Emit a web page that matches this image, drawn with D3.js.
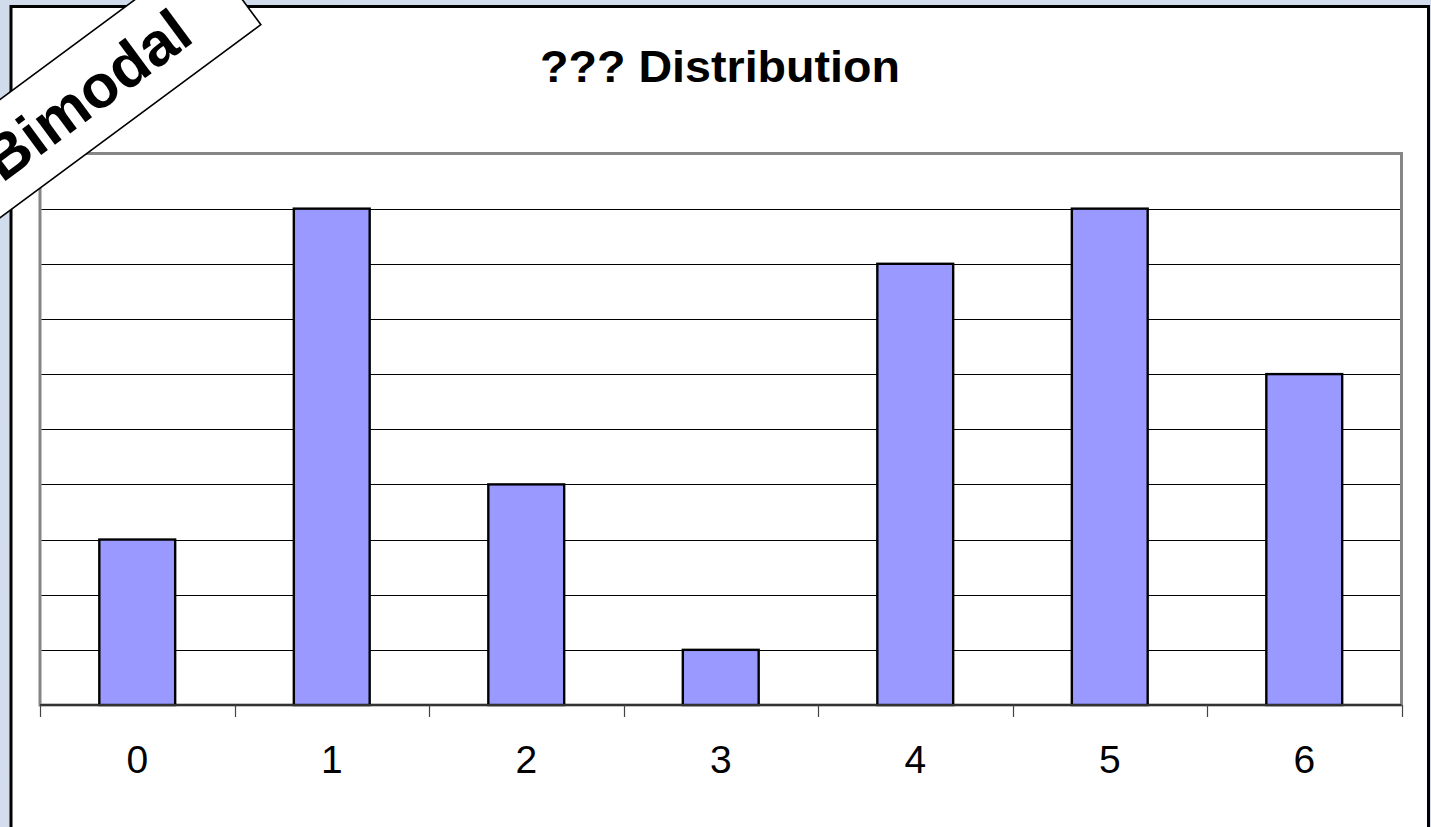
<!DOCTYPE html>
<html>
<head>
<meta charset="utf-8">
<script src="https://cdn.jsdelivr.net/npm/d3@7"></script>
<style>
  html, body { margin: 0; padding: 0; background: #d3ddec; overflow: hidden; }
  svg { display: block; }
</style>
</head>
<body>
<svg id="chart" width="1431" height="827"></svg>
<script>
const categories = ["0", "1", "2", "3", "4", "5", "6"];
const counts = [3, 9, 4, 1, 8, 9, 6];
const gridValues = [1, 2, 3, 4, 5, 6, 7, 8, 9];
const chartTitle = "??? Distribution";
const stampText = "Bimodal";

const svg = d3.select("#chart");

// background gradient
const defs = svg.append("defs");
const bg = defs.append("linearGradient").attr("id", "bg").attr("x1", 0).attr("y1", 0).attr("x2", 1).attr("y2", 1);
bg.append("stop").attr("offset", "0%").attr("stop-color", "#d0dbec");
bg.append("stop").attr("offset", "100%").attr("stop-color", "#d6e0ee");
svg.append("rect").attr("width", 1431).attr("height", 827).attr("fill", "url(#bg)");

// chart frame
svg.append("rect")
  .attr("x", 11).attr("y", 6.5)
  .attr("width", 1417.5).attr("height", 840)
  .attr("fill", "#ffffff").attr("stroke", "#000").attr("stroke-width", 3);

const plot = { left: 40, right: 1401.5, top: 153.5, bottom: 705 };

const x = d3.scaleBand()
  .domain(categories)
  .range([plot.left, plot.right])
  .paddingInner(0.61)
  .paddingOuter(0.305);

const y = d3.scaleLinear().domain([0, 10]).range([plot.bottom, plot.top]);

// plot area border
svg.append("rect")
  .attr("x", plot.left).attr("y", plot.top)
  .attr("width", plot.right - plot.left).attr("height", plot.bottom - plot.top)
  .attr("fill", "#fff").attr("stroke", "#868686").attr("stroke-width", 3);

// gridlines
svg.append("g").selectAll("line").data(gridValues).join("line")
  .attr("x1", plot.left + 1.5).attr("x2", plot.right - 1.5)
  .attr("y1", d => Math.round(y(d)) + 0.5).attr("y2", d => Math.round(y(d)) + 0.5)
  .attr("stroke", "#000").attr("stroke-width", 1);

// bars
svg.append("g").selectAll("rect").data(counts).join("rect")
  .attr("x", (d, i) => x(categories[i]))
  .attr("width", x.bandwidth())
  .attr("y", d => y(d))
  .attr("height", d => y(0) - y(d))
  .attr("fill", "#9999ff")
  .attr("stroke", "#000")
  .attr("stroke-width", 2.4);

// x axis: ticks at category boundaries
const step = x.step();
const boundaries = d3.range(categories.length + 1).map(i => plot.left + i * step);
svg.append("line")
  .attr("x1", plot.left).attr("x2", plot.right)
  .attr("y1", plot.bottom).attr("y2", plot.bottom)
  .attr("stroke", "#333").attr("stroke-width", 2.2);
svg.append("g").selectAll("line").data(boundaries).join("line")
  .attr("x1", d => Math.round(d) + 0.5).attr("x2", d => Math.round(d) + 0.5)
  .attr("y1", plot.bottom).attr("y2", plot.bottom + 12)
  .attr("stroke", "#444").attr("stroke-width", 1.2);

svg.append("g").selectAll("text").data(categories).join("text")
  .attr("x", d => x(d) + x.bandwidth() / 2)
  .attr("y", 773)
  .attr("text-anchor", "middle")
  .attr("font-family", "Liberation Sans, Arial, sans-serif")
  .attr("font-size", 39)
  .attr("fill", "#000")
  .text(d => d);

// title
svg.append("text")
  .attr("transform", "translate(720,81.5) scale(1.06,1)")
  .attr("text-anchor", "middle")
  .attr("font-family", "Liberation Sans, Arial, sans-serif")
  .attr("font-weight", "bold")
  .attr("font-size", 44)
  .attr("fill", "#000")
  .text(chartTitle);

// rotated stamp
const stamp = svg.append("g").attr("transform", "rotate(-36.5)");
stamp.append("rect")
  .attr("x", -169).attr("y", 80)
  .attr("width", 364).attr("height", 95)
  .attr("fill", "#fff").attr("stroke", "#000").attr("stroke-width", 1.6);
stamp.append("text")
  .attr("x", 13).attr("y", 149)
  .attr("text-anchor", "middle")
  .attr("font-family", "Liberation Sans, Arial, sans-serif")
  .attr("font-weight", "bold")
  .attr("font-size", 61)
  .attr("fill", "#000")
  .text(stampText);
</script>
</body>
</html>
